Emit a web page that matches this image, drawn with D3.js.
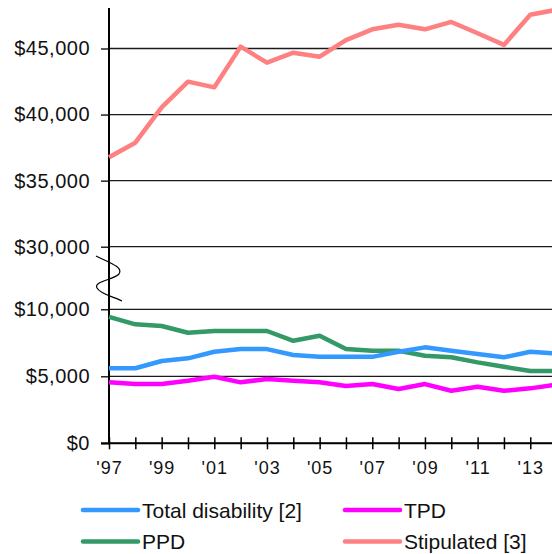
<!DOCTYPE html>
<html>
<head>
<meta charset="utf-8">
<script src="https://cdn.jsdelivr.net/npm/d3@7"></script>
<style>
  html, body { margin: 0; padding: 0; background: #fff; }
  svg { display: block; font-family: "Liberation Sans", Arial, sans-serif; }
</style>
</head>
<body>
<svg id="chart" width="552" height="554"></svg>
<script>
const years = [1997,1998,1999,2000,2001,2002,2003,2004,2005,2006,2007,2008,2009,2010,2011,2012,2013,2014];
const totalDisability = [5600,5600,6140,6340,6830,7030,7030,6590,6460,6450,6450,6830,7160,6910,6660,6420,6830,6700];
const tpd = [4550,4420,4420,4670,4970,4550,4800,4670,4550,4280,4420,4050,4420,3920,4220,3920,4100,4380];
const ppd = [9440,8880,8750,8250,8380,8380,8380,7650,8030,7040,6910,6910,6540,6420,6040,5710,5390,5390];
const stipulated = [36770,37870,40550,42490,42060,45140,43930,44680,44380,45640,46450,46800,46450,47010,46150,45270,47560,47930];
const yTicks = [0,5000,10000,30000,35000,40000,45000];
const xTickLabels = ["'97","'99","'01","'03","'05","'07","'09","'11","'13"];
const seriesNames = ["Total disability [2]","TPD","PPD","Stipulated [3]"];
const seriesColors = ["#3399FF","#FF00FF","#339966","#FF8080"];

const svg = d3.select("#chart");
const x = d3.scaleLinear().domain([1997, 2014]).range([109, 556.6]);
const y = d3.scaleLinear().domain([0, 10000, 30000, 45000]).range([443.3, 309.3, 246.7, 48.5]);

// gridlines
svg.append("g").selectAll("line").data(yTicks).join("line")
  .attr("x1", 109).attr("x2", 552)
  .attr("y1", d => y(d)).attr("y2", d => y(d))
  .attr("stroke", "#1a1a1a").attr("stroke-width", 1.3);

// y axis
const yAxis = d3.axisLeft(y).tickValues(yTicks).tickSize(8).tickPadding(11)
  .tickFormat(d => "$" + d3.format(",")(d));
const gy = svg.append("g").attr("transform", "translate(109,0)").call(yAxis);
gy.select(".domain").remove();
gy.selectAll(".tick line").attr("stroke", "#000").attr("stroke-width", 1.3);
gy.selectAll(".tick text").attr("font-size", 20).attr("fill", "#111")
  .attr("font-family", "Liberation Sans, Arial, sans-serif").attr("letter-spacing", "0.5px");
svg.append("line").attr("x1", 109).attr("x2", 109).attr("y1", 8).attr("y2", 443.3)
  .attr("stroke", "#000").attr("stroke-width", 2);

// x axis
const xAxis = d3.axisBottom(x).tickValues(years).tickSize(6).tickPadding(12)
  .tickFormat((d, i) => i % 2 === 0 ? xTickLabels[i / 2] : "");
const gx = svg.append("g").attr("transform", "translate(0,443.3)").call(xAxis);
gx.select(".domain").remove();
gx.selectAll(".tick line").attr("y1", -6).attr("stroke", "#000").attr("stroke-width", 1.5);
gx.selectAll(".tick text").attr("font-size", 18).attr("fill", "#111")
  .attr("font-family", "Liberation Sans, Arial, sans-serif").attr("letter-spacing", "1px");
svg.append("line").attr("x1", 101).attr("x2", 552).attr("y1", 443.3).attr("y2", 443.3)
  .attr("stroke", "#000").attr("stroke-width", 2);

// break symbol
svg.append("path")
  .attr("d", "M96,256 C108,262 124,267 119,274 C114,280 93,281 97,288 C100,294 114,297 122,301")
  .attr("fill", "none").attr("stroke", "#000").attr("stroke-width", 1.2);

// lines
const allSeries = [totalDisability, tpd, ppd, stipulated];
const line = d3.line().x((d, i) => x(years[i])).y(d => y(d));
const drawOrder = [3, 2, 0, 1];
drawOrder.forEach(k => {
  svg.append("path").datum(allSeries[k]).attr("d", line)
    .attr("fill", "none").attr("stroke", seriesColors[k]).attr("stroke-width", 4.5)
    .attr("stroke-linejoin", "round");
});

// legend
const legendPos = [[83, 510], [345, 510], [83, 541.5], [345, 541.5]];
seriesNames.forEach((name, k) => {
  const [lx, ly] = legendPos[k];
  svg.append("line").attr("x1", lx).attr("x2", lx + 55).attr("y1", ly).attr("y2", ly)
    .attr("stroke", seriesColors[k]).attr("stroke-width", 4.5).attr("stroke-linecap", "round");
  svg.append("text").attr("x", lx + 59).attr("y", ly).attr("dy", "0.36em")
    .attr("font-size", 21).attr("fill", "#111").text(name);
});
</script>
</body>
</html>
